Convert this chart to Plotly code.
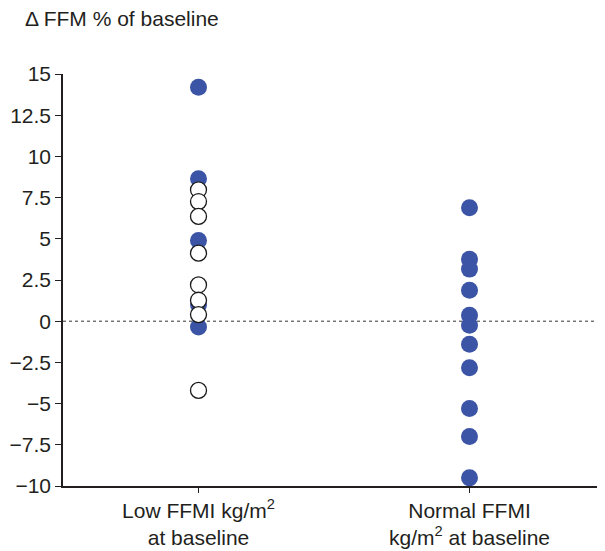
import plotly.graph_objects as go

categories = ["Low FFMI kg/m<sup>2</sup><br>at baseline", "Normal FFMI<br>kg/m<sup>2</sup> at baseline"]
low_filled = [14.2, 8.64, 4.9, 1.0, -0.35]
low_open = [7.97, 7.26, 6.36, 4.13, 2.2, 1.27, 0.4, -4.2]
normal_filled = [6.88, 3.76, 3.16, 1.88, 0.36, -0.24, -1.4, -2.83, -5.3, -7.0, -9.5]
y_ticks = [15, 12.5, 10, 7.5, 5, 2.5, 0, -2.5, -5, -7.5, -10]
y_ticktext = ["15", "12.5", "10", "7.5", "5", "2.5", "0", "\u22122.5", "\u22125", "\u22127.5", "\u221210"]

BLUE = "#3b54a5"
FONT = "Liberation Sans, Arial, sans-serif"

# page body has an 8px margin; the figure is sized/offset to compensate
fig = go.Figure()
fig.add_trace(go.Scatter(
    x=[0] * len(low_filled), y=low_filled, mode="markers",
    marker=dict(size=17, color=BLUE, line=dict(width=0)), showlegend=False))
fig.add_trace(go.Scatter(
    x=[0] * len(low_open), y=low_open, mode="markers",
    marker=dict(size=16, color="white", line=dict(width=1.3, color="#1a1a1a")), showlegend=False))
fig.add_trace(go.Scatter(
    x=[1] * len(normal_filled), y=normal_filled, mode="markers",
    marker=dict(size=17, color=BLUE, line=dict(width=0)), showlegend=False))

fig.add_shape(type="line", xref="paper", yref="y", x0=0, x1=1, y0=0, y1=0,
              line=dict(color="#333333", width=1, dash="dot"), layer="below")

fig.add_annotation(text="\u0394 FFM % of baseline", xref="paper", yref="paper",
                   x=(15 - 55) / 542, y=1.1336, xanchor="left", yanchor="middle",
                   showarrow=False, font=dict(size=21, color="#231f20", family=FONT))

fig.update_layout(
    width=597, height=543,
    margin=dict(l=55, r=0, t=66, b=65),
    paper_bgcolor="white", plot_bgcolor="white",
    font=dict(family=FONT, size=20, color="#231f20"),
    xaxis=dict(range=[-0.5, 1.5], tickvals=[0, 1], ticktext=categories,
               automargin=False, tickfont=dict(size=21),
               showgrid=False, zeroline=False, showline=True, linecolor="#231f20",
               linewidth=1.5, ticks="outside", ticklen=5, tickcolor="#231f20"),
    yaxis=dict(range=[-10, 15], tickvals=y_ticks, ticktext=y_ticktext,
               automargin=False, tickfont=dict(size=21),
               showgrid=False, zeroline=False, showline=True, linecolor="#231f20",
               linewidth=1.5, ticks="outside", ticklen=6, tickcolor="#231f20"),
)

fig.write_html("out.html")
